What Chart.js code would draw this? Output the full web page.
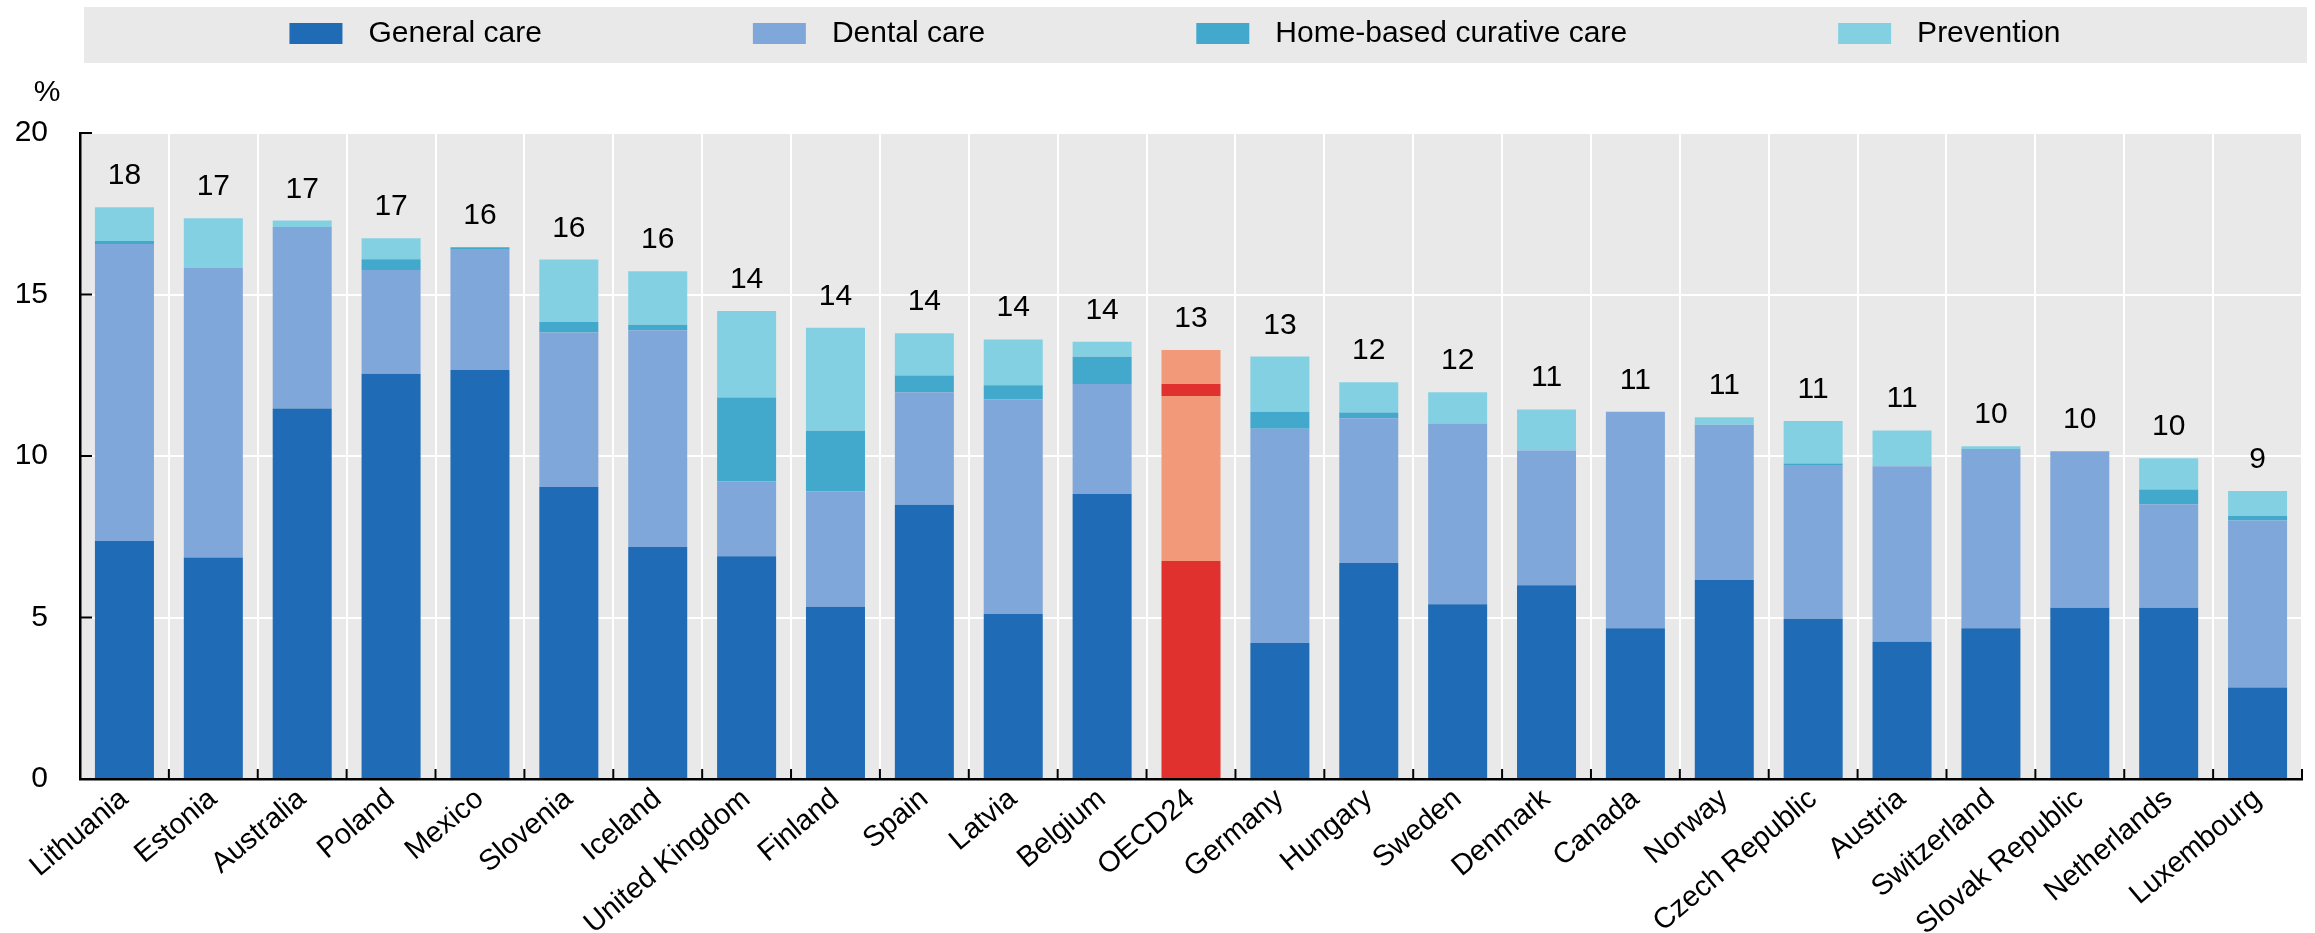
<!DOCTYPE html>
<html>
<head>
<meta charset="utf-8">
<script src="https://cdn.jsdelivr.net/npm/chart.js@4.4.1/dist/chart.umd.min.js"></script>
<style>
  html, body { margin: 0; padding: 0; background: #fff; }
  .chart-box { width: 2315px; height: 933px; position: relative; }
</style>
</head>
<body>
<div class="chart-box"><canvas id="care-chart"></canvas></div>
<script>
// Data
const countries = ["Lithuania", "Estonia", "Australia", "Poland", "Mexico", "Slovenia", "Iceland", "United Kingdom", "Finland", "Spain", "Latvia", "Belgium", "OECD24", "Germany", "Hungary", "Sweden", "Denmark", "Canada", "Norway", "Czech Republic", "Austria", "Switzerland", "Slovak Republic", "Netherlands", "Luxembourg"];
const generalCare = [7.37, 6.86, 11.47, 12.55, 12.66, 9.04, 7.18, 6.90, 5.33, 8.49, 5.11, 8.82, 6.75, 4.21, 6.69, 5.41, 6.00, 4.67, 6.16, 4.96, 4.25, 4.67, 5.30, 5.30, 2.83];
const dentalCare = [9.19, 8.96, 5.62, 3.21, 3.75, 4.78, 6.71, 2.31, 3.57, 3.48, 6.64, 3.41, 5.11, 6.63, 4.48, 5.60, 4.17, 6.70, 4.81, 4.76, 5.43, 5.55, 4.85, 3.21, 5.17];
const homeCare = [0.10, 0, 0, 0.33, 0.05, 0.33, 0.17, 2.60, 1.88, 0.52, 0.44, 0.84, 0.37, 0.53, 0.18, 0, 0, 0, 0, 0.05, 0, 0, 0, 0.45, 0.14];
const prevention = [1.04, 1.54, 0.20, 0.65, 0, 1.93, 1.66, 2.68, 3.19, 1.31, 1.42, 0.47, 1.05, 1.71, 0.93, 0.96, 1.27, 0, 0.23, 1.31, 1.11, 0.08, 0, 0.97, 0.78];
const totalLabels = [18, 17, 17, 17, 16, 16, 16, 14, 14, 14, 14, 14, 13, 13, 12, 12, 11, 11, 11, 11, 11, 10, 10, 10, 9];
const seriesNames = ["General care", "Dental care", "Home-based curative care", "Prevention"];
const seriesColors = ["#1f6bb5", "#7fa7d9", "#43a9cc", "#84d0e3"];
const oecdColors = ["#e0312f", "#f2997a", "#e0312f", "#f2997a"];
// End Data

const FONT = '"Liberation Sans", Arial, sans-serif';
const FONT_SIZE = 30;

const barColors = (k) =>
  countries.map((c) => (c === "OECD24" ? oecdColors[k] : seriesColors[k]));

const seriesValues = [generalCare, dentalCare, homeCare, prevention];

// Background, legend, labels
const decorPlugin = {
  id: "decor",
  beforeDraw(chart) {
    const { ctx, chartArea } = chart;
    ctx.save();
    ctx.fillStyle = "#ffffff";
    ctx.fillRect(0, 0, chart.width, chart.height);
    ctx.fillStyle = "#e9e9e9";
    ctx.fillRect(84, 7, 2223, 56);
    ctx.fillRect(chartArea.left, chartArea.top, chartArea.right - chartArea.left, chartArea.bottom - chartArea.top);
    ctx.restore();
  },
  afterDraw(chart) {
    const { ctx, chartArea, scales } = chart;
    ctx.save();

    // inward ticks
    ctx.strokeStyle = "#000";
    ctx.lineWidth = 2;
    scales.y.ticks.forEach((t) => {
      const y = scales.y.getPixelForValue(t.value);
      ctx.beginPath();
      ctx.moveTo(chartArea.left, y);
      ctx.lineTo(chartArea.left + 12, y);
      ctx.stroke();
    });
    for (let i = 0; i <= countries.length; i++) {
      const x = i < countries.length
        ? scales.x.getPixelForValue(i) - scales.x.width / countries.length / 2
        : chartArea.right;
      ctx.beginPath();
      ctx.moveTo(x, chartArea.bottom);
      ctx.lineTo(x, chartArea.bottom - 10);
      ctx.stroke();
    }

    ctx.font = `${FONT_SIZE}px ${FONT}`;
    ctx.fillStyle = "#000";

    // unit
    ctx.textAlign = "center";
    ctx.textBaseline = "middle";
    ctx.fillText("%", 47, 93);

    // totals
    ctx.textBaseline = "alphabetic";
    const meta = chart.getDatasetMeta(0);
    meta.data.forEach((bar, i) => {
      const sum = seriesValues.reduce((s, arr) => s + arr[i], 0);
      const y = scales.y.getPixelForValue(sum);
      ctx.fillText(String(totalLabels[i]), bar.x, y - 23);
    });

    // legend
    const boxW = 53, boxH = 21, gap = 26, spacing = 211;
    const widths = seriesNames.map((n) => boxW + gap + ctx.measureText(n).width);
    const total = widths.reduce((a, b) => a + b, 0) + spacing * (widths.length - 1);
    let x = 1175 - total / 2;
    ctx.textAlign = "left";
    ctx.textBaseline = "middle";
    seriesNames.forEach((name, k) => {
      ctx.fillStyle = seriesColors[k];
      ctx.fillRect(x, 23, boxW, boxH);
      ctx.fillStyle = "#000";
      ctx.fillText(name, x + boxW + gap, 34);
      x += widths[k] + spacing;
    });

    ctx.restore();
  },
};

const careChart = document.querySelector("#care-chart");
if (careChart) {
  new Chart(careChart, {
    type: "bar",
    data: {
      labels: countries,
      datasets: seriesNames.map((name, k) => ({
        label: name,
        data: seriesValues[k],
        backgroundColor: barColors(k),
        borderWidth: 0,
        barPercentage: 0.664,
        categoryPercentage: 1,
      })),
    },
    options: {
      responsive: true,
      maintainAspectRatio: false,
      animation: false,
      devicePixelRatio: 1,
      layout: {
        padding: { top: 133, right: 13, left: 0, bottom: 0 },
      },
      plugins: {
        legend: { display: false },
        tooltip: { enabled: false },
      },
      scales: {
        x: {
          stacked: true,
          grid: { color: "#ffffff", lineWidth: 2, drawTicks: false, offset: true },
          border: { color: "#000", width: 2.5 },
          ticks: {
            color: "#000",
            font: { family: FONT, size: 29 },
            maxRotation: 40,
            minRotation: 40,
            padding: 3,
            autoSkip: false,
          },
          afterFit: (scale) => {
            scale.height = 154;
          },
        },
        y: {
          stacked: true,
          min: 0,
          max: 20,
          grid: { color: "#ffffff", lineWidth: 2, drawTicks: false },
          border: { color: "#000", width: 2.5 },
          ticks: {
            stepSize: 5,
            color: "#000",
            padding: 32,
            font: { family: FONT, size: FONT_SIZE },
          },
          afterFit: (scale) => {
            scale.width = 80;
          },
        },
      },
    },
    plugins: [decorPlugin],
  });
}
</script>
</body>
</html>
